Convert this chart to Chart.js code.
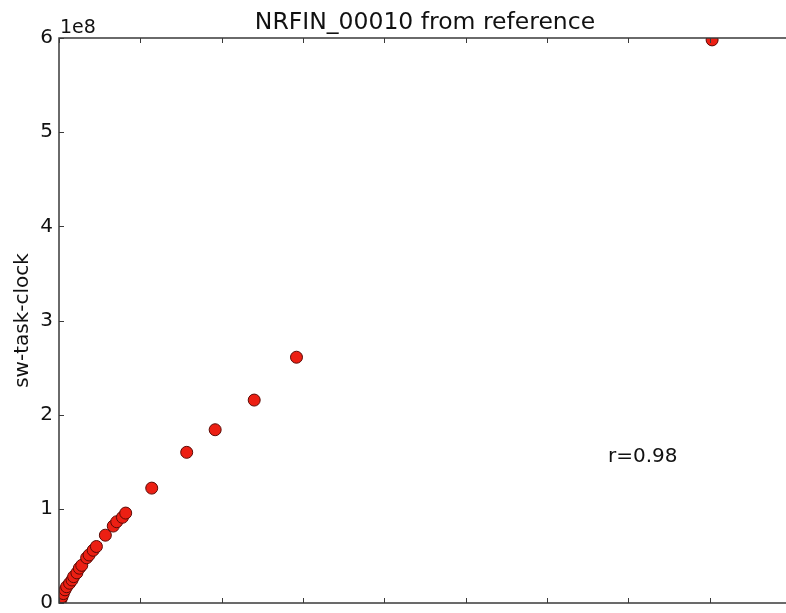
<!DOCTYPE html>
<html>
<head>
    <title>NRFIN_00010 from reference</title>
    <script src="https://cdn.jsdelivr.net/npm/chart.js"></script>
    <style>
        html, body { margin: 0; padding: 0; overflow: hidden; background: #fff; }
        .wrap { position: absolute; left: 0; top: 0; width: 850px; height: 660px; }
    </style>
</head>
<body>
    <div class="wrap">
        <canvas id="chart" width="850" height="660"></canvas>
    </div>

    <script type="text/javascript">
        const title = 'NRFIN_00010 from reference'
        const yLabel = 'sw-task-clock'
        const corrText = 'r=0.98'
        const yOffsetText = '1e8'

        // x in axis units (ticks 0..9), y in raw counts
        const xValues = [0.003, 0.01, 0.025, 0.037, 0.053, 0.074, 0.094, 0.13, 0.16, 0.18, 0.22, 0.25, 0.28,
            0.34, 0.37, 0.42, 0.46, 0.57, 0.667, 0.71, 0.78, 0.82, 1.14, 1.57, 1.92, 2.40, 2.92, 8.03]
        const yValues = [0.004e8, 0.015e8, 0.04e8, 0.067e8, 0.10e8, 0.14e8, 0.173e8, 0.21e8, 0.244e8, 0.28e8,
            0.32e8, 0.37e8, 0.40e8, 0.48e8, 0.51e8, 0.56e8, 0.60e8, 0.72e8, 0.817e8, 0.863e8, 0.91e8, 0.955e8,
            1.22e8, 1.60e8, 1.84e8, 2.155e8, 2.61e8, 5.98e8]

        const points = xValues.map((x, i) => ({ x: x, y: yValues[i] }))
        const font = 'DejaVu Sans'

        const frame = {
            id: 'frame',
            afterDraw(chart) {
                const ctx = chart.ctx
                const a = chart.chartArea
                const xs = chart.scales.x
                const ys = chart.scales.y
                ctx.save()
                ctx.strokeStyle = '#3a3a3a'
                ctx.lineWidth = 1.5
                ctx.strokeRect(a.left, a.top, a.right - a.left, a.bottom - a.top)
                ctx.lineWidth = 1
                ctx.beginPath()
                xs.ticks.forEach(t => {
                    const px = Math.round(xs.getPixelForValue(t.value)) + 0.5
                    ctx.moveTo(px, a.bottom); ctx.lineTo(px, a.bottom - 5)
                    ctx.moveTo(px, a.top); ctx.lineTo(px, a.top + 5)
                })
                ys.ticks.forEach(t => {
                    const py = Math.round(ys.getPixelForValue(t.value)) + 0.5
                    ctx.moveTo(a.left, py); ctx.lineTo(a.left + 5, py)
                    ctx.moveTo(a.right, py); ctx.lineTo(a.right - 5, py)
                })
                ctx.stroke()

                ctx.fillStyle = '#111'
                ctx.font = '19px "' + font + '"'
                ctx.textAlign = 'left'
                ctx.textBaseline = 'alphabetic'
                ctx.fillText(yOffsetText, a.left + 1, a.top - 5)

                ctx.font = '20px "' + font + '"'
                ctx.fillText(corrText, a.left + (a.right - a.left) * 0.75, a.bottom - (a.bottom - a.top) * 0.25)
                ctx.restore()
            }
        }

        const ctx = document.getElementById('chart')
        let chart = new Chart(ctx, {
            type: 'scatter',
            data: {
                datasets: [{
                    data: points,
                    backgroundColor: '#ec1f13',
                    borderColor: '#5b0a05',
                    borderWidth: 1,
                    pointRadius: 6,
                    pointHoverRadius: 6
                }]
            },
            options: {
                responsive: false,
                animation: false,
                events: [],
                layout: { padding: 0 },
                plugins: {
                    legend: { display: false },
                    tooltip: { enabled: false },
                    title: {
                        display: true,
                        text: title,
                        color: '#111',
                        font: { family: font, size: 23.5, weight: 'normal' },
                        padding: { top: 9, bottom: 0.8 }
                    }
                },
                scales: {
                    x: {
                        type: 'linear',
                        min: 0,
                        max: 9,
                        grid: { display: false, drawTicks: false },
                        border: { display: false },
                        ticks: { display: false, stepSize: 1 },
                        afterFit: s => { s.height = 57 }
                    },
                    y: {
                        type: 'linear',
                        min: 0,
                        max: 6e8,
                        grid: { display: false, drawTicks: false },
                        border: { display: false },
                        ticks: {
                            stepSize: 1e8,
                            padding: 6,
                            color: '#111',
                            font: { family: font, size: 20 },
                            callback: v => String(Math.round(v / 1e8))
                        },
                        title: {
                            display: true,
                            text: yLabel,
                            color: '#111',
                            font: { family: font, size: 20 },
                            padding: { top: 11, bottom: 0 }
                        },
                        afterFit: s => { s.width = 59 }
                    },
                    y2: {
                        type: 'linear',
                        position: 'right',
                        min: 0,
                        max: 6e8,
                        grid: { display: false, drawTicks: false },
                        border: { display: false },
                        ticks: { display: false },
                        afterFit: s => { s.width = 59 }
                    }
                }
            },
            plugins: [frame]
        })
    </script>
</body>
</html>
